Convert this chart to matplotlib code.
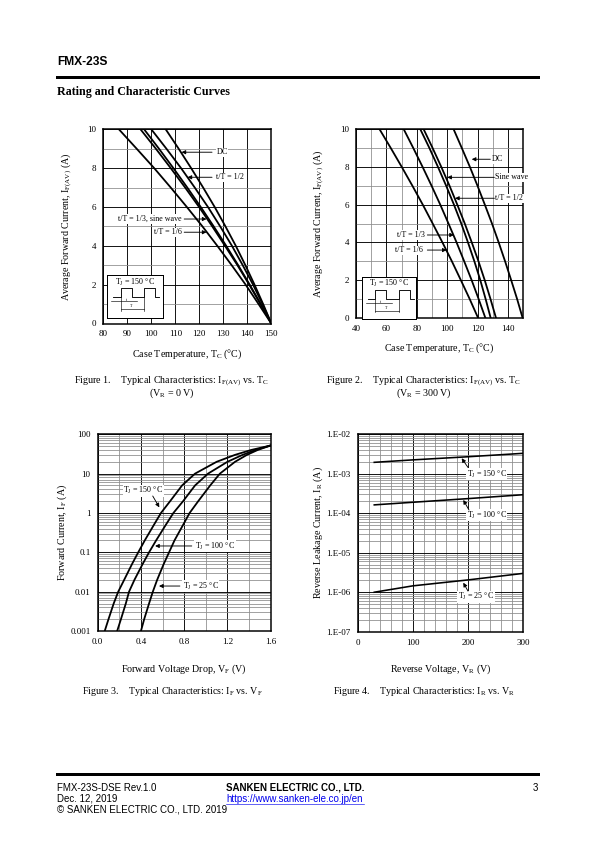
import matplotlib
matplotlib.use("Agg")
import matplotlib.pyplot as plt
from matplotlib.ticker import MultipleLocator, LogLocator, NullFormatter, FixedLocator

plt.rcParams['font.family'] = ['Liberation Serif', 'DejaVu Serif']
plt.rcParams['mathtext.fontset'] = 'custom'
plt.rcParams['mathtext.rm'] = 'Liberation Serif'
plt.rcParams['mathtext.it'] = 'Liberation Serif:italic'

W, H = 595, 842

# ---- Figure 1 data: I_F(AV) vs Tc, VR = 0 V ----
f1_if = [0, 1, 2, 3, 4, 5, 6, 7, 8, 9, 10]
f1_dc = [150, 146.6, 143.0, 139.2, 135.2, 130.9, 126.4, 121.6, 116.6, 111.4, 106.0]
f1_half = [150, 146.3, 142.4, 138.1, 133.6, 128.7, 123.6, 118.1, 112.4, 106.3, 100.0]
f1_sine = [150, 145.6, 141.0, 136.2, 131.2, 126.0, 120.6, 115.0, 109.2, 103.2, 97.0]
f1_third = [150, 145.5, 140.8, 135.9, 130.7, 125.4, 119.9, 114.1, 108.1, 101.9, 95.5]
f1_sixth = [150, 144.7, 139.3, 133.5, 127.5, 121.3, 114.8, 108.1, 101.2, 93.9, 86.5]

# ---- Figure 2 data: I_F(AV) vs Tc, VR = 300 V ----
f2_if = [0, 1, 2, 3, 4, 5, 6, 7, 8, 9, 10]
f2_dc = [149.5, 145.9, 142.0, 138.0, 133.8, 129.4, 124.7, 119.9, 114.9, 109.6, 104.2]
f2_half = [132.0, 128.4, 124.6, 120.5, 116.1, 111.5, 106.6, 101.5, 96.1, 90.4, 84.5]
f2_sine = [128.5, 125.2, 121.7, 117.8, 113.6, 109.2, 104.4, 99.3, 93.9, 88.3, 82.3]
f2_third = [125.0, 120.6, 116.0, 111.1, 106.1, 100.8, 95.4, 89.7, 83.8, 77.7, 71.4]
f2_sixth = [120.2, 114.7, 108.9, 103.0, 96.8, 90.4, 83.9, 77.1, 70.1, 62.9, 55.5]

# ---- Figure 3 data: IF vs VF ----
f3_if = [0.001, 0.002, 0.005, 0.01, 0.02, 0.05, 0.1, 0.2, 0.5, 1, 2, 5, 10, 20, 30, 40, 52]
f3_vf_150 = [0.065, 0.10, 0.148, 0.19, 0.245, 0.317, 0.375, 0.435, 0.52, 0.585, 0.67, 0.78, 0.90, 1.10, 1.27, 1.42, 1.6]
f3_vf_100 = [0.18, 0.215, 0.26, 0.29, 0.34, 0.415, 0.475, 0.54, 0.63, 0.70, 0.79, 0.90, 1.02, 1.20, 1.34, 1.46, 1.6]
f3_vf_25 = [0.40, 0.43, 0.475, 0.51, 0.55, 0.61, 0.66, 0.71, 0.79, 0.85, 0.93, 1.04, 1.13, 1.27, 1.38, 1.48, 1.6]

# ---- Figure 4 data: IR vs VR ----
f4_vr = [30, 100, 200, 300]
f4_ir_150 = [1.95e-3, 2.25e-3, 2.7e-3, 3.3e-3]
f4_ir_100 = [1.63e-4, 1.9e-4, 2.35e-4, 2.95e-4]
f4_ir_25 = [1.0e-6, 1.45e-6, 2.05e-6, 3.0e-6]

fig = plt.figure(figsize=(W / 72, H / 72), dpi=72)


def rect(l, t, r, b):
    return [l / W, 1 - b / H, (r - l) / W, (b - t) / H]


def fx(x):
    return x / W


def fy(y):
    return 1 - y / H


GREY = '#8c8c8c'
FS_TICK = 9
FS_LAB = 10
FS_NOTE = 8


def style(ax):
    ax.grid(which='major', color='black', lw=0.9)
    ax.grid(which='minor', color=GREY, lw=0.8)
    ax.set_axisbelow(True)
    ax.tick_params(which='both', length=0, labelsize=FS_TICK, pad=7)
    for s in ax.spines.values():
        s.set_linewidth(1.5)


def arrow(ax, tip, tail):
    ax.annotate('', xy=tip, xytext=tail,
                arrowprops=dict(arrowstyle='-|>', color='black', lw=0.9,
                                mutation_scale=8, shrinkA=0, shrinkB=0))


def label(ax, x, y, s, ha='left'):
    ax.text(x, y, s, ha=ha, va='center', fontsize=FS_NOTE,
            bbox=dict(facecolor='white', edgecolor='none', pad=0.6))


def inset(l, t, r, b):
    ia = fig.add_axes(rect(l, t, r, b))
    ia.set_xlim(0, r - l)
    ia.set_ylim(b - t, 0)
    ia.set_xticks([])
    ia.set_yticks([])
    ia.set_facecolor('white')
    for s in ia.spines.values():
        s.set_linewidth(1.0)
    ia.text((r - l) / 2, 6.5, r'T$_\mathrm{J}$ = 150 °C', ha='center', va='center', fontsize=FS_NOTE)
    wx = [6, 13.5, 13.5, 24.5, 24.5, 37, 37, 48, 48, 52]
    wy = [22, 22, 12.5, 12.5, 22, 22, 12.5, 12.5, 22, 22]
    ia.plot(wx, wy, color='black', lw=0.9)
    ia.plot([4, 30], [25.5, 25.5], color='black', lw=0.6)
    ia.plot([13.5, 13.5], [22, 35], color='black', lw=0.6)
    ia.plot([37, 37], [22, 35], color='black', lw=0.6)
    ia.plot([13.5, 37], [33.5, 33.5], color='black', lw=0.6)
    ia.text(19, 24.5, 't', fontsize=4, ha='center', va='center')
    ia.text(24, 30.5, 'T', fontsize=4, ha='center', va='center')


# ---------------- Figure 1 ----------------
ax1 = fig.add_axes(rect(103.3, 129.3, 271.3, 323.5))
for tc in [f1_dc, f1_half, f1_sine, f1_third, f1_sixth]:
    ax1.plot(tc, f1_if, color='black', lw=1.8)
ax1.set_xlim(80, 150)
ax1.set_ylim(0, 10)
ax1.xaxis.set_major_locator(MultipleLocator(10))
ax1.yaxis.set_major_locator(MultipleLocator(2))
ax1.yaxis.set_minor_locator(MultipleLocator(1))
style(ax1)
ax1.set_xlabel('Case Temperature, T$_\\mathrm{C}$ (°C)', fontsize=FS_LAB, labelpad=9)
ax1.set_ylabel('Average Forward Current, I$_\\mathrm{F(AV)}$ (A)', fontsize=FS_LAB, labelpad=13)
label(ax1, 127.1, 8.82, 'DC')
arrow(ax1, (112.6, 8.82), (125.3, 8.82))
label(ax1, 127.1, 7.53, 't/T = 1/2')
arrow(ax1, (115.1, 7.53), (125.3, 7.53))
label(ax1, 112.6, 5.38, 't/T = 1/3, sine wave', ha='right')
arrow(ax1, (123.0, 5.38), (113.7, 5.38))
label(ax1, 112.6, 4.70, 't/T = 1/6', ha='right')
arrow(ax1, (123.0, 4.70), (113.7, 4.70))
inset(107.3, 275.5, 163.3, 317.5)

# ---------------- Figure 2 ----------------
ax2 = fig.add_axes(rect(356, 129.3, 523.3, 317.7))
for tc in [f2_dc, f2_half, f2_sine, f2_third, f2_sixth]:
    ax2.plot(tc, f2_if, color='black', lw=1.8)
ax2.set_xlim(40, 150)
ax2.set_ylim(0, 10)
ax2.xaxis.set_major_locator(FixedLocator([40, 60, 80, 100, 120, 140]))
ax2.xaxis.set_minor_locator(FixedLocator([50, 70, 90, 110, 130]))
ax2.yaxis.set_major_locator(MultipleLocator(2))
ax2.yaxis.set_minor_locator(MultipleLocator(1))
style(ax2)
ax2.set_xlabel('Case Temperature, T$_\\mathrm{C}$ (°C)', fontsize=FS_LAB, labelpad=9)
ax2.set_ylabel('Average Forward Current, I$_\\mathrm{F(AV)}$ (A)', fontsize=FS_LAB, labelpad=14)
label(ax2, 129.2, 8.41, 'DC')
arrow(ax2, (116.1, 8.41), (128.3, 8.41))
label(ax2, 131.6, 7.45, 'Sine wave')
arrow(ax2, (100.0, 7.45), (131.0, 7.45))
label(ax2, 131.6, 6.34, 't/T = 1/2')
arrow(ax2, (105.1, 6.34), (131.0, 6.34))
label(ax2, 85.4, 4.39, 't/T = 1/3', ha='right')
arrow(ax2, (104.4, 4.39), (86.9, 4.39))
label(ax2, 84.2, 3.59, 't/T = 1/6', ha='right')
arrow(ax2, (99.6, 3.59), (86.9, 3.59))
inset(361.7, 277.3, 415.7, 319)

# ---------------- Figure 3 ----------------
ax3 = fig.add_axes(rect(97.7, 434.3, 270.7, 631))
for vf in [f3_vf_150, f3_vf_100, f3_vf_25]:
    ax3.plot(vf, f3_if, color='black', lw=1.8)
ax3.set_yscale('log')
ax3.set_xlim(0, 1.6)
ax3.set_ylim(0.001, 100)
ax3.xaxis.set_major_locator(MultipleLocator(0.4))
ax3.xaxis.set_minor_locator(MultipleLocator(0.2))
ax3.yaxis.set_minor_locator(LogLocator(base=10, subs=range(2, 10), numticks=10))
ax3.yaxis.set_minor_formatter(NullFormatter())
ax3.set_xticks([0, 0.4, 0.8, 1.2, 1.6])
ax3.set_xticklabels(['0.0', '0.4', '0.8', '1.2', '1.6'])
ax3.set_yticks([0.001, 0.01, 0.1, 1, 10, 100])
ax3.set_yticklabels(['0.001', '0.01', '0.1', '1', '10', '100'])
style(ax3)
ax3.set_xlabel('Forward Voltage Drop, V$_\\mathrm{F}$ (V)', fontsize=FS_LAB, labelpad=16)
ax3.set_ylabel('Forward Current, I$_\\mathrm{F}$ (A)', fontsize=FS_LAB, labelpad=1)
label(ax3, 0.422, 3.68, r'T$_\mathrm{J}$ = 150 °C', ha='center')
arrow(ax3, (0.57, 1.39), (0.509, 2.7))
label(ax3, 0.90, 0.145, r'T$_\mathrm{J}$ = 100 °C')
arrow(ax3, (0.531, 0.145), (0.87, 0.145))
label(ax3, 0.786, 0.0139, r'T$_\mathrm{J}$ = 25 °C')
arrow(ax3, (0.567, 0.0139), (0.76, 0.0139))

# ---------------- Figure 4 ----------------
ax4 = fig.add_axes(rect(357.7, 434.3, 523.3, 631.7))
for ir in [f4_ir_150, f4_ir_100, f4_ir_25]:
    ax4.plot(f4_vr, ir, color='black', lw=1.6)
ax4.set_yscale('log')
ax4.set_xlim(0, 300)
ax4.set_ylim(1e-7, 1e-2)
ax4.xaxis.set_major_locator(MultipleLocator(100))
ax4.xaxis.set_minor_locator(MultipleLocator(20))
ax4.yaxis.set_minor_locator(LogLocator(base=10, subs=range(2, 10), numticks=10))
ax4.yaxis.set_minor_formatter(NullFormatter())
ax4.set_yticks([1e-7, 1e-6, 1e-5, 1e-4, 1e-3, 1e-2])
ax4.set_yticklabels(['1.E-07', '1.E-06', '1.E-05', '1.E-04', '1.E-03', '1.E-02'])
style(ax4)
ax4.set_xlabel('Reverse Voltage, V$_\\mathrm{R}$ (V)', fontsize=FS_LAB, labelpad=16)
ax4.set_ylabel('Reverse Leakage Current, I$_\\mathrm{R}$ (A)', fontsize=FS_LAB, labelpad=1)
label(ax4, 197.5, 9.86e-4, r'T$_\mathrm{J}$ = 150 °C')
arrow(ax4, (188.4, 2.47e-3), (199.8, 1.45e-3))
label(ax4, 197.5, 9.03e-5, r'T$_\mathrm{J}$ = 100 °C')
arrow(ax4, (191.3, 2.17e-4), (201.6, 1.21e-4))
label(ax4, 181.7, 7.7e-7, r'T$_\mathrm{J}$ = 25 °C')
arrow(ax4, (191.3, 1.74e-6), (199.8, 1.07e-6))

# ---------------- captions ----------------
cap = dict(fontsize=10, ha='center', va='center')
fig.text(fx(172), fy(381), 'Figure 1.    Typical Characteristics: I$_\\mathrm{F(AV)}$ vs. T$_\\mathrm{C}$', **cap)
fig.text(fx(172), fy(393), '(V$_\\mathrm{R}$ = 0 V)', **cap)
fig.text(fx(424), fy(381), 'Figure 2.    Typical Characteristics: I$_\\mathrm{F(AV)}$ vs. T$_\\mathrm{C}$', **cap)
fig.text(fx(424), fy(393), '(V$_\\mathrm{R}$ = 300 V)', **cap)
fig.text(fx(172), fy(692), 'Figure 3.    Typical Characteristics: I$_\\mathrm{F}$ vs. V$_\\mathrm{F}$', **cap)
fig.text(fx(424), fy(692), 'Figure 4.    Typical Characteristics: I$_\\mathrm{R}$ vs. V$_\\mathrm{R}$', **cap)

# ---------------- header / footer ----------------
sans = ['Liberation Sans', 'DejaVu Sans']
fig.text(fx(57), fy(62), 'FMX-23S', family=sans, weight='bold', fontsize=12, va='center')
fig.add_artist(plt.Line2D([fx(57), fx(538)], [fy(76.5), fy(76.5)], color='black', lw=3))
fig.text(fx(57), fy(92), 'Rating and Characteristic Curves', weight='bold', fontsize=12, va='center')

fig.add_artist(plt.Line2D([fx(57), fx(538)], [fy(773.5), fy(773.5)], color='black', lw=3))
ft = dict(family=sans, fontsize=9.8, va='center')
fig.text(fx(57), fy(788), 'FMX-23S-DSE Rev.1.0', **ft)
fig.text(fx(57), fy(798.5), 'Dec. 12, 2019', **ft)
fig.text(fx(57), fy(809), '© SANKEN ELECTRIC CO., LTD. 2019', **ft)
fig.text(fx(226), fy(788), 'SANKEN ELECTRIC CO., LTD.', weight='bold', **ft)
fig.text(fx(226), fy(798.5), 'https://www.sanken-ele.co.jp/en', color='#0000ee', **ft)
fig.add_artist(plt.Line2D([fx(226), fx(364)], [fy(804), fy(804)], color='#0000ee', lw=0.6))
fig.text(fx(538), fy(788), '3', ha='right', **ft)

fig.savefig('out.png', dpi=72)
